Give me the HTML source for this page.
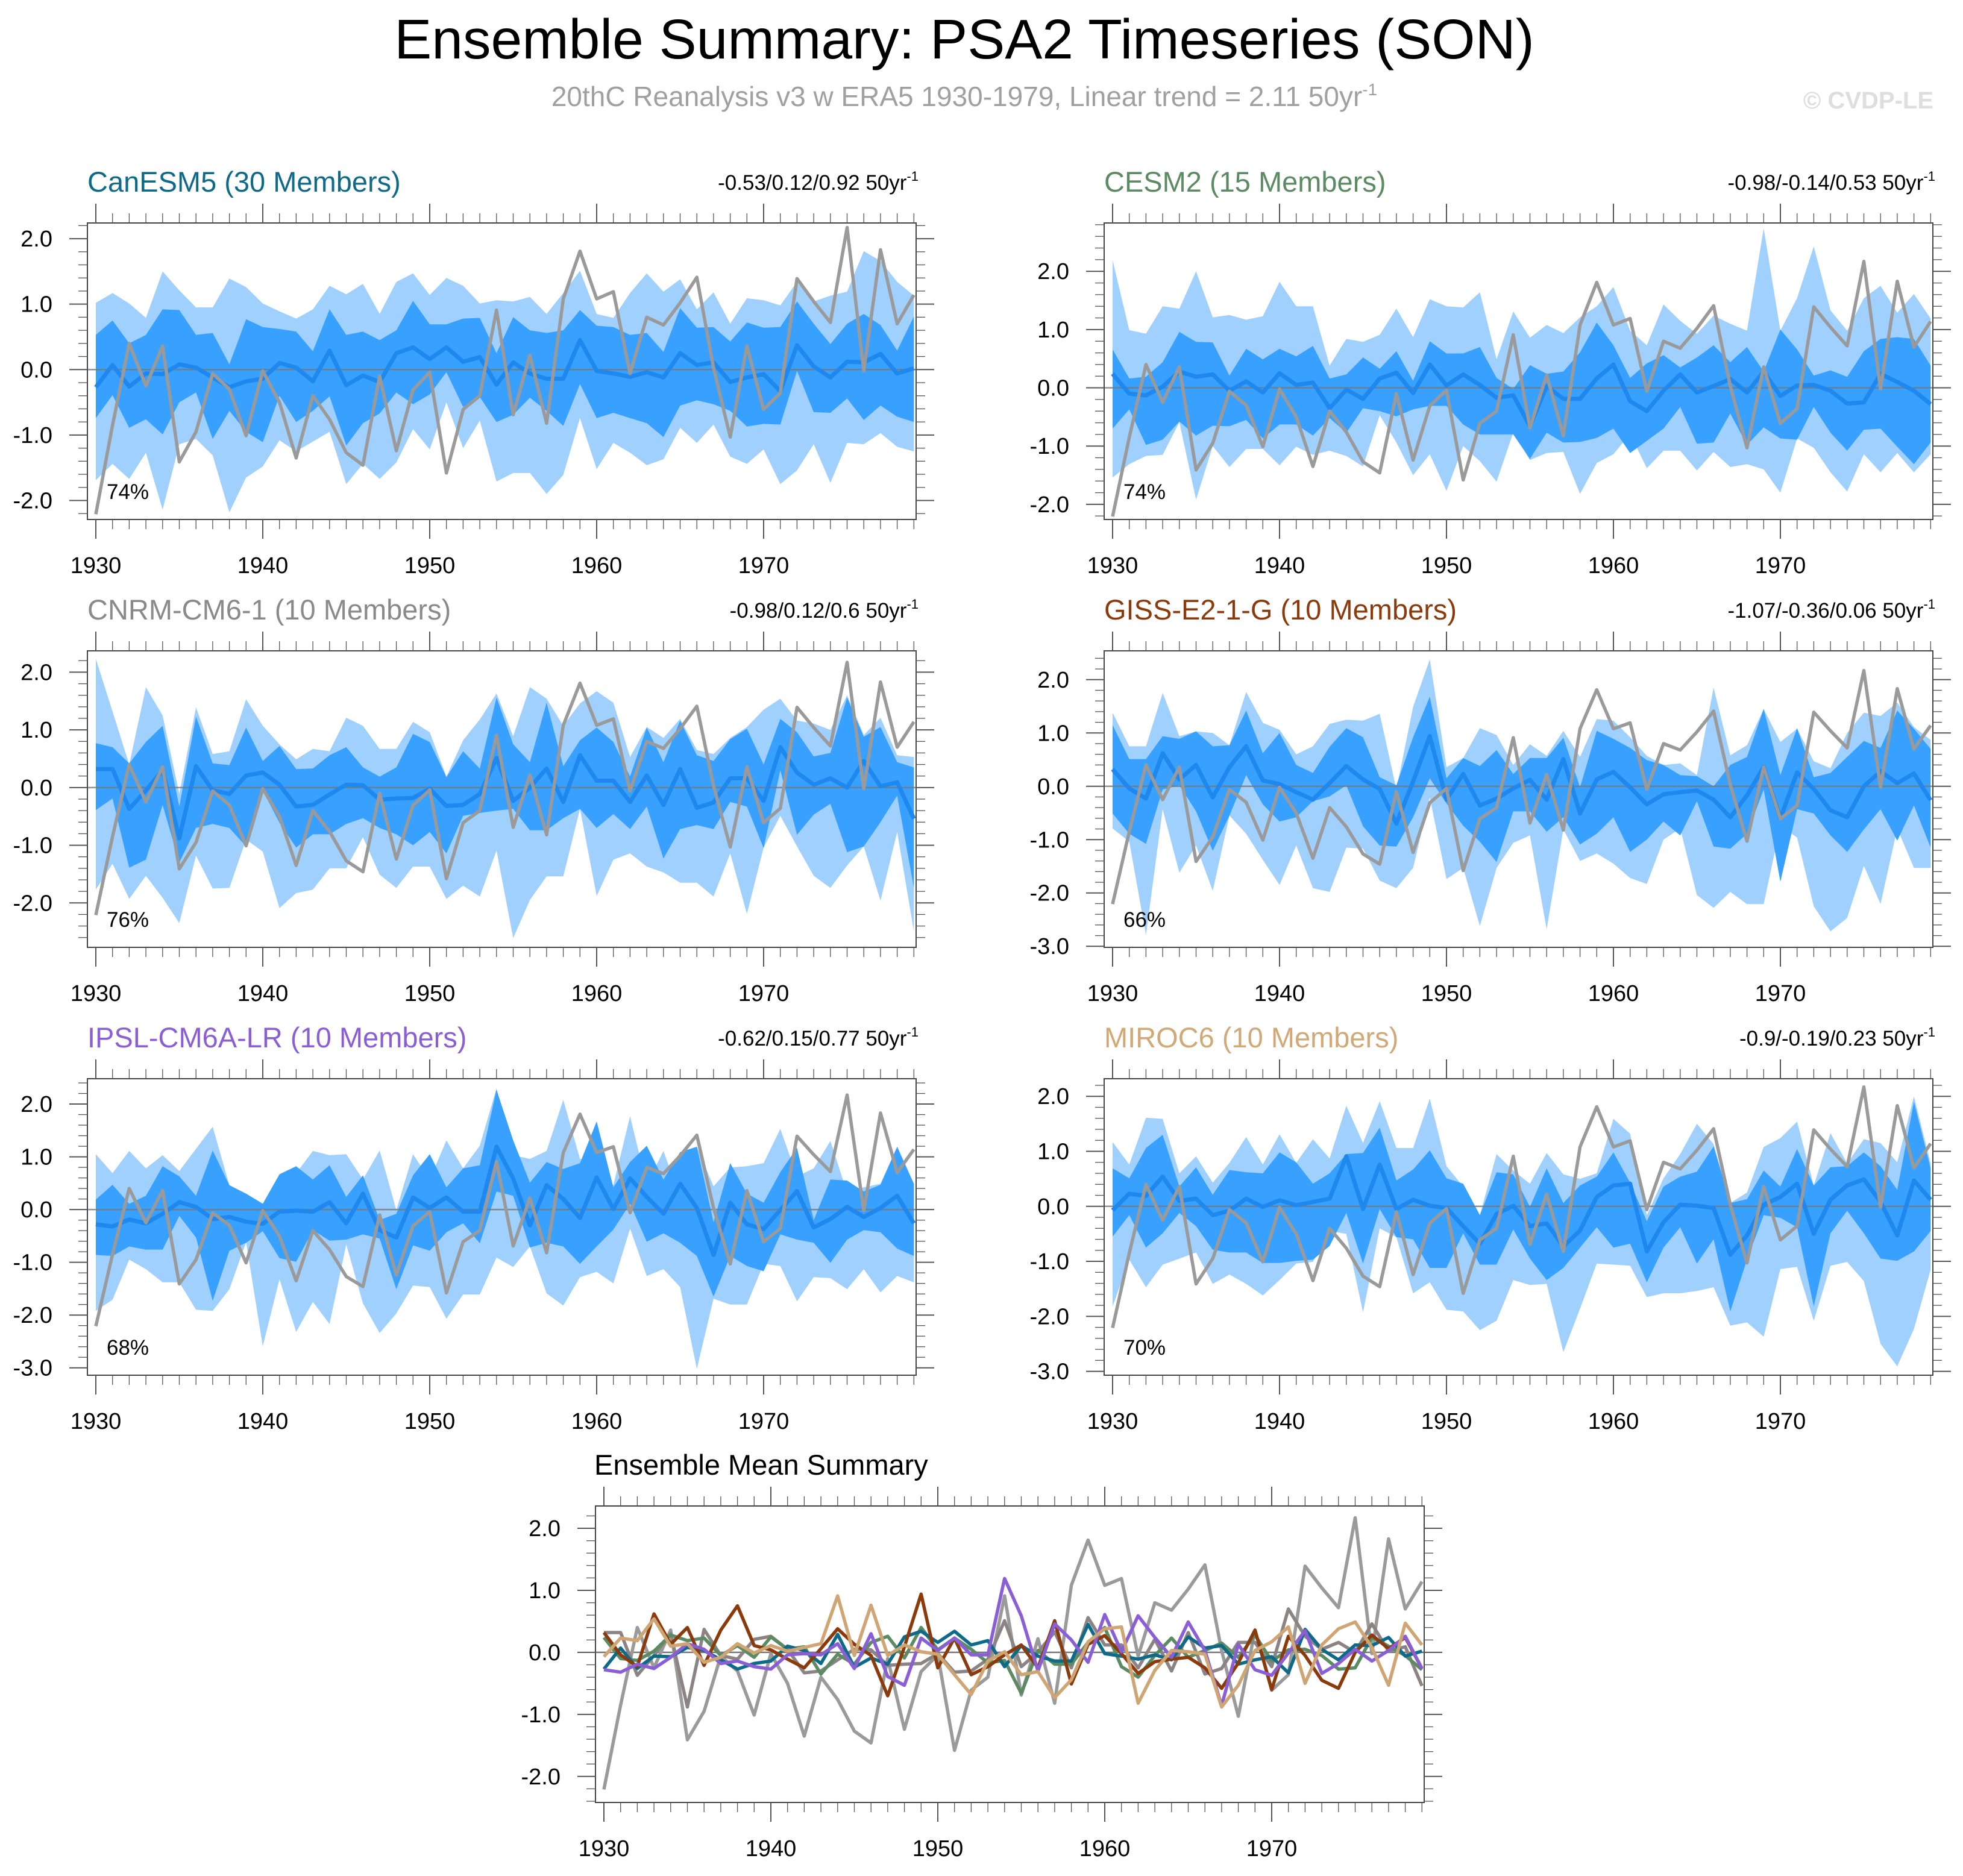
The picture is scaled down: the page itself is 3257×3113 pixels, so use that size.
<!DOCTYPE html>
<html><head><meta charset="utf-8"><title>Ensemble Summary: PSA2 Timeseries (SON)</title>
<style>
html,body{margin:0;padding:0;background:#fff;}
svg{display:block;font-family:"Liberation Sans",Arial,sans-serif;}
</style></head>
<body>
<svg id="fig" width="3257" height="3113" viewBox="0 0 3257 3113" xmlns="http://www.w3.org/2000/svg">
<text x="1600" y="97" font-size="93" text-anchor="middle" fill="#000">Ensemble Summary: PSA2 Timeseries (SON)</text>
<text x="1600" y="176" font-size="46" text-anchor="middle" fill="#a0a0a0">20thC Reanalysis v3 w ERA5 1930-1979, Linear trend = 2.11 50yr<tspan dy="-18" font-size="28">-1</tspan></text>
<text x="3208" y="180" font-size="40" font-weight="bold" text-anchor="end" fill="#dedede">© CVDP-LE</text>
<g id="panels"></g>
</svg>
<script>
const years = [];
for (let y = 1930; y <= 1979; y++) years.push(y);
const xTickLabels = [1930, 1940, 1950, 1960, 1970];

const obs = [-2.21,-0.85,0.40,-0.25,0.36,-1.41,-0.95,-0.06,-0.30,-1.01,-0.02,-0.50,-1.35,-0.40,-0.76,-1.27,-1.46,-0.10,-1.24,-0.31,-0.04,-1.58,-0.61,-0.40,0.91,-0.69,0.22,-0.82,1.08,1.81,1.08,1.19,-0.06,0.80,0.68,1.02,1.41,0.03,-1.03,0.36,-0.61,-0.36,1.39,1.04,0.72,2.17,-0.02,1.83,0.70,1.14];

// CanESM5
const canMean = [-0.27,0.07,-0.26,-0.06,-0.07,0.08,0.03,-0.12,-0.27,-0.18,-0.14,0.10,0.03,-0.18,0.29,-0.24,-0.09,-0.19,0.25,0.34,0.16,0.34,0.12,0.19,-0.23,0.11,-0.06,-0.14,-0.14,0.45,-0.02,-0.06,-0.11,-0.04,-0.12,0.25,0.07,0.11,-0.19,-0.12,-0.07,-0.33,0.37,0.05,-0.12,0.12,0.11,0.24,-0.06,0.02];
const canOutHi = [1.02,1.17,1.01,0.79,1.50,1.21,0.95,0.95,1.39,1.26,1.01,0.89,0.78,0.92,1.28,1.15,1.31,0.85,1.34,1.47,1.14,1.40,1.28,1.01,1.06,1.04,1.11,0.85,1.17,1.51,0.85,0.79,1.17,1.47,1.19,1.38,0.92,1.18,0.70,1.09,1.06,0.98,1.34,1.04,1.13,1.19,1.81,1.66,1.34,1.13];
const canInHi = [0.53,0.75,0.40,0.53,0.92,0.91,0.53,0.56,0.08,0.77,0.65,0.62,0.58,0.28,0.92,0.53,0.58,0.45,0.60,1.05,0.69,0.69,0.78,0.79,0.25,0.80,0.60,0.56,0.60,0.91,0.67,0.65,0.53,0.56,0.27,0.94,0.64,0.65,0.43,0.72,0.64,0.65,1.04,0.70,0.39,0.70,0.85,0.68,0.29,0.81];
const canInLo = [-0.74,-0.39,-0.89,-0.76,-0.99,-0.50,-0.35,-1.06,-0.63,-0.95,-1.11,-0.40,-0.80,-0.63,-0.41,-1.16,-0.82,-0.67,-0.35,-0.53,-0.38,-0.04,-0.57,-0.42,-0.80,-0.69,-0.43,-0.63,-0.86,-0.22,-0.74,-0.66,-0.74,-0.82,-1.03,-0.55,-0.47,-0.53,-0.63,-0.87,-0.83,-0.84,-0.02,-0.65,-0.66,-0.44,-0.77,-0.55,-0.72,-0.80];
const canOutLo = [-1.69,-1.44,-1.67,-1.27,-2.14,-1.14,-1.06,-1.31,-2.18,-1.65,-1.48,-1.08,-1.25,-1.10,-0.95,-1.75,-1.44,-1.67,-1.42,-0.91,-1.22,-0.50,-1.20,-0.78,-1.71,-1.58,-1.58,-1.90,-1.61,-0.74,-1.52,-1.12,-1.27,-1.46,-1.37,-0.89,-1.12,-0.84,-1.33,-1.44,-1.22,-1.75,-1.54,-1.14,-1.73,-1.12,-1.14,-0.97,-1.18,-1.25];

// CESM2
const cesmMean = [0.24,-0.10,-0.13,0.02,0.28,0.19,0.23,-0.05,0.11,-0.08,0.25,0.05,0.09,-0.35,-0.03,-0.19,0.16,0.26,-0.09,0.40,0.04,0.23,0.05,-0.17,-0.13,-0.66,0.03,-0.19,-0.19,0.16,0.40,-0.23,-0.40,-0.05,0.23,-0.08,0.03,0.15,-0.08,0.28,-0.14,0.04,0.05,-0.05,-0.27,-0.25,0.24,0.10,-0.05,-0.28];
const cesmOutHi = [2.19,0.99,0.93,1.40,1.36,2.00,1.21,1.25,1.17,1.23,1.82,1.40,1.40,0.38,0.84,0.79,0.91,1.36,0.87,1.52,1.40,1.38,1.64,0.49,1.31,0.86,1.08,0.94,1.21,1.40,1.73,0.98,0.73,1.43,1.15,0.93,1.24,1.10,0.98,2.74,0.98,1.54,2.43,1.33,0.98,1.54,1.75,1.29,1.61,1.19];
const cesmInHi = [0.66,0.16,0.19,0.44,0.96,0.79,0.78,0.21,0.67,0.49,0.67,0.54,0.72,0.16,0.23,0.52,0.33,0.63,0.12,0.80,0.59,0.59,0.70,0.17,-0.02,0.39,0.24,0.28,0.61,1.12,0.73,0.17,0.42,0.56,0.35,0.52,0.73,0.44,0.70,0.28,1.00,0.66,0.21,0.30,0.19,0.63,0.84,0.87,0.84,0.38];
const cesmInLo = [-0.70,-0.37,-0.98,-0.89,-0.58,-0.82,-0.65,-0.66,-0.55,-0.87,-0.63,-0.63,-0.82,-0.52,-0.77,-0.35,-0.40,-0.49,-0.37,-0.31,-0.31,-0.63,-0.80,-0.80,-0.80,-1.22,-0.77,-0.94,-0.93,-0.86,-0.70,-1.12,-0.91,-0.70,-0.33,-0.96,-0.94,-0.44,-0.98,-0.68,-0.87,-0.89,-0.33,-0.77,-1.08,-0.72,-0.70,-1.01,-1.31,-0.94];
const cesmOutLo = [-1.54,-1.31,-1.17,-1.15,-0.59,-1.92,-1.00,-1.36,-1.05,-1.05,-1.33,-1.01,-1.15,-1.08,-1.17,-1.35,-0.47,-0.94,-1.50,-1.14,-1.77,-1.00,-1.26,-1.61,-0.77,-1.24,-1.12,-1.10,-1.82,-1.29,-1.14,-0.79,-1.38,-1.08,-1.08,-1.42,-1.10,-1.36,-1.31,-1.40,-1.80,-0.87,-1.03,-1.45,-1.78,-1.14,-1.45,-1.12,-1.45,-1.14];

// CNRM-CM6-1
const cnrmMean = [0.32,0.32,-0.37,-0.05,0.30,-0.88,0.37,-0.05,-0.11,0.21,0.26,0.05,-0.33,-0.30,-0.12,0.05,0.04,-0.21,-0.19,-0.18,-0.02,-0.32,-0.30,-0.11,0.51,-0.23,0.00,0.33,-0.25,0.56,0.12,0.12,-0.25,0.21,-0.30,0.32,-0.35,-0.26,0.16,0.16,-0.23,0.70,0.26,0.05,0.16,0.00,0.46,0.02,0.09,-0.54];
const cnrmOutHi = [2.23,1.32,0.40,1.74,1.25,-0.11,1.39,0.58,0.63,1.53,1.07,0.75,0.49,0.67,0.63,1.21,1.07,0.67,0.67,1.14,0.96,0.19,0.82,1.18,1.63,0.89,1.74,1.54,1.07,1.46,1.67,1.47,0.53,1.05,0.86,1.19,0.65,0.58,0.86,1.05,1.35,1.54,1.16,1.11,1.00,1.60,0.91,1.21,0.56,0.53];
const cnrmInHi = [0.77,0.70,0.42,0.79,1.07,-0.33,1.23,0.42,0.39,1.04,0.46,0.72,0.32,0.33,0.56,0.70,0.35,0.19,0.35,0.93,0.79,0.18,0.63,0.33,1.56,0.75,0.44,1.47,0.37,0.82,1.04,0.79,0.19,1.04,0.44,1.16,0.56,0.46,0.84,1.02,0.40,1.19,0.96,0.54,0.60,1.56,0.88,1.05,0.44,0.35];
const cnrmInLo = [-0.39,-0.19,-1.39,-1.25,-0.30,-1.30,-0.70,-0.63,-0.70,-1.02,-0.05,-0.61,-1.04,-0.81,-0.81,-0.63,-0.53,-0.70,-0.81,-1.00,-0.77,-1.14,-0.49,-0.44,-0.40,-0.37,-0.74,-0.74,-0.53,-0.37,-0.70,-0.46,-0.72,-0.33,-1.23,-0.72,-0.65,-0.72,-0.25,-0.33,-1.05,0.30,-0.82,-0.47,-0.28,-1.12,-1.02,-0.60,-0.14,-1.74];
const cnrmOutLo = [-1.77,-1.32,-1.93,-1.53,-1.91,-2.35,-1.18,-1.75,-1.74,-0.90,-1.11,-2.09,-1.83,-1.77,-1.40,-1.40,-0.86,-1.51,-1.74,-1.37,-1.37,-1.93,-1.70,-1.89,-1.09,-2.61,-1.95,-1.54,-1.54,-0.37,-1.88,-1.25,-1.14,-1.37,-1.47,-1.65,-1.65,-1.89,-1.14,-2.19,-1.04,-0.49,-1.02,-1.53,-1.74,-1.35,-1.02,-1.96,-0.77,-2.49];

// GISS-E2-1-G
const gissMean = [0.32,-0.04,-0.23,0.62,0.13,0.40,-0.21,0.36,0.75,0.11,0.04,-0.11,-0.25,0.06,0.38,0.13,-0.05,-0.70,0.09,0.94,-0.25,0.23,-0.36,-0.23,-0.04,0.12,-0.25,0.51,-0.51,0.13,0.27,-0.02,-0.34,-0.15,-0.11,-0.08,-0.25,-0.58,-0.17,0.36,-0.60,0.26,-0.05,-0.45,-0.58,0.00,0.28,0.06,0.24,-0.26];
const gissOutHi = [1.38,0.75,0.75,1.75,0.94,1.03,1.00,0.77,1.77,1.19,1.06,0.60,0.75,1.17,1.25,1.23,1.36,-0.06,1.49,2.38,0.36,0.53,1.09,0.96,0.40,0.79,0.57,1.04,0.55,1.26,1.23,0.92,0.57,0.40,0.43,0.21,1.85,0.58,0.77,1.45,0.83,1.08,0.47,0.34,1.00,1.38,1.32,1.57,1.11,0.87];
const gissInHi = [1.15,0.51,0.51,0.94,0.89,1.03,0.75,0.77,1.42,0.62,1.00,0.40,0.25,0.74,1.09,0.92,0.17,0.02,0.92,1.68,0.15,0.53,0.38,0.68,0.23,0.53,0.53,0.91,-0.02,1.04,0.89,0.72,0.49,0.40,0.21,0.19,0.00,0.40,0.55,1.45,0.21,1.09,0.17,0.25,0.55,0.85,0.72,1.42,1.08,0.70];
const gissInLo = [-0.51,-0.89,-1.08,-0.06,0.02,-0.47,-1.21,-0.55,0.21,-0.34,-0.66,-0.58,-0.28,-0.19,0.02,-0.75,-1.11,-1.13,-0.58,0.15,-0.32,-0.74,-1.04,-1.42,-0.47,-0.47,-0.85,-0.58,-1.09,-0.89,-0.58,-1.23,-1.00,-0.66,-0.92,-0.28,-1.13,-1.17,-0.89,-0.06,-1.79,-0.43,-0.51,-0.92,-1.23,-0.81,-0.43,-1.02,-0.36,-1.15];
const gissOutLo = [-0.79,-1.04,-2.79,-0.43,-1.62,-1.11,-1.96,-0.55,-0.89,-1.38,-1.85,-1.11,-1.91,-1.98,-1.15,-1.17,-1.77,-1.91,-1.53,-0.21,-1.74,-1.53,-2.62,-1.53,-1.06,-0.92,-2.68,-0.81,-1.40,-1.26,-1.45,-1.72,-1.83,-1.00,-0.79,-2.04,-2.28,-1.98,-2.21,-2.21,-0.74,-0.96,-2.25,-2.72,-2.47,-1.49,-2.21,-0.79,-1.53,-1.53];

// IPSL-CM6A-LR
const ipslMean = [-0.28,-0.32,-0.19,-0.26,-0.08,0.14,0.05,-0.18,-0.14,-0.23,-0.27,-0.04,-0.02,-0.04,0.14,-0.26,0.30,-0.39,-0.53,0.23,0.03,0.23,-0.04,-0.04,1.19,0.59,-0.30,0.46,0.20,-0.16,0.61,0.01,0.59,0.24,-0.08,0.49,0.03,-0.86,0.13,-0.28,-0.37,-0.01,0.35,-0.34,-0.18,0.05,-0.14,0.03,0.26,-0.26];
const ipslOutHi = [1.05,0.69,1.11,0.78,1.03,0.73,1.15,1.57,0.46,0.30,0.11,0.49,0.69,1.11,1.03,1.05,0.57,1.12,-0.01,1.05,0.57,1.31,0.78,1.21,2.30,1.03,0.96,1.11,2.08,0.96,0.96,0.46,1.77,0.47,1.11,0.22,1.19,0.44,0.80,0.82,0.88,1.53,0.63,0.78,1.30,0.32,0.42,0.49,1.19,0.49];
const ipslInHi = [0.19,0.47,0.11,0.26,0.82,0.63,0.26,1.12,0.46,0.30,0.11,0.67,0.82,0.57,0.84,0.24,0.65,-0.20,-0.08,0.65,1.05,0.42,0.78,0.84,2.27,1.31,0.51,0.90,0.77,0.88,1.67,0.42,0.90,1.21,0.57,1.09,1.19,-0.24,0.88,0.30,0.13,0.71,1.17,-0.20,0.57,0.55,0.34,0.47,1.19,0.49];
const ipslInLo = [-0.86,-0.88,-0.70,-0.76,-0.76,-0.12,-0.53,-1.73,-0.78,-0.63,-0.41,-0.92,-0.99,-0.39,-0.59,-0.57,-0.47,-0.55,-1.51,-0.68,-0.78,-0.43,-0.26,-0.64,0.34,0.26,-0.72,-0.63,-0.70,-1.03,-0.70,-0.38,0.11,-0.61,-0.45,-0.63,-0.88,-1.65,-0.88,-1.07,-1.17,-0.47,-0.57,-0.63,-1.01,-0.57,-0.39,-0.43,-0.74,-0.88];
const ipslOutLo = [-1.92,-1.71,-0.95,-1.13,-1.38,-1.38,-1.90,-1.92,-1.51,-0.62,-2.59,-1.32,-2.32,-1.75,-2.17,-0.66,-1.78,-2.34,-1.97,-1.44,-1.47,-2.07,-1.61,-1.61,-0.91,-1.09,-0.70,-1.59,-1.82,-1.28,-1.18,-1.40,-0.36,-1.26,-1.13,-1.47,-3.02,-1.69,-1.80,-1.80,-1.03,-1.07,-1.74,-1.28,-1.30,-1.51,-1.13,-1.57,-1.26,-1.38];

// MIROC6
const mirocMean = [-0.07,0.23,0.19,0.54,0.10,0.14,-0.16,-0.08,0.14,-0.01,0.11,0.02,0.08,0.14,0.91,-0.05,0.76,-0.05,0.12,0.01,-0.03,-0.36,-0.68,-0.14,0.01,-0.36,-0.31,-0.73,-0.44,0.17,0.38,0.41,-0.82,-0.29,0.03,0.01,-0.03,-0.88,-0.53,0.03,0.17,0.41,-0.50,0.12,0.38,0.49,0.08,-0.53,0.47,0.12];
const mirocOutHi = [1.17,0.76,1.61,1.59,0.60,0.91,0.43,0.79,1.26,0.76,1.31,0.79,1.22,0.87,1.83,1.15,1.91,1.06,1.06,1.96,0.73,0.36,-0.16,0.95,0.65,0.41,0.97,0.58,0.50,0.60,1.59,1.32,-0.16,0.51,0.95,1.50,1.13,0.06,0.25,1.08,1.24,1.54,0.38,1.33,0.78,1.22,1.15,0.80,2.00,0.78];
const mirocInHi = [0.69,0.51,1.06,1.30,0.36,0.71,0.21,0.66,0.62,0.60,0.98,0.80,0.41,0.60,0.95,0.97,1.43,0.47,0.67,1.02,0.51,0.41,-0.16,0.62,0.58,-0.01,0.69,0.06,0.38,0.54,0.98,0.43,-0.27,0.36,0.54,0.63,1.09,0.06,0.13,0.65,0.36,1.04,0.38,0.71,0.73,0.98,0.73,0.30,1.90,0.69];
const mirocInLo = [-0.55,-0.16,-0.75,-0.49,-0.12,-0.36,-0.79,-0.84,-0.84,-1.03,-1.03,-0.99,-0.97,-0.72,-0.12,-1.04,-0.05,-0.56,-0.60,-1.12,-1.12,-0.49,-1.06,-1.06,-0.42,-0.95,-1.34,-1.12,-0.75,-0.38,-0.75,-0.68,-1.38,-0.75,-0.38,-1.04,-0.60,-1.91,-0.97,-0.16,-0.21,-0.38,-1.82,-0.49,-0.08,-0.49,-0.95,-0.99,-0.82,-0.45];
const mirocOutLo = [-1.82,-0.97,-1.47,-1.06,-0.95,-0.84,-1.41,-1.24,-1.41,-1.62,-1.34,-1.04,-1.01,-0.45,-0.50,-1.93,-0.40,-0.56,-1.58,-1.38,-1.88,-1.91,-2.25,-2.08,-1.34,-1.43,-1.41,-2.65,-1.86,-1.04,-1.06,-1.08,-1.65,-1.58,-1.58,-1.54,-1.47,-2.17,-2.11,-2.37,-1.14,-1.10,-2.08,-1.08,-1.01,-1.36,-2.50,-2.91,-2.23,-1.15];

const NS = "http://www.w3.org/2000/svg";
const root = document.getElementById("panels");
function el(tag, attrs, parent) {
  const e = document.createElementNS(NS, tag);
  for (const k in attrs) e.setAttribute(k, attrs[k]);
  (parent || root).appendChild(e);
  return e;
}

const PW = 1375, PH = 492;
function makeAxes(left, top, ymin, ymax) {
  const xS = yr => left + 14 + (yr - 1930) * 27.7;
  const yS = v => top + (ymax - v) / (ymax - ymin) * PH;
  return { xS, yS };
}

function drawFrame(g, left, top, ymin, ymax, ticks, labels) {
  const { xS, yS } = makeAxes(left, top, ymin, ymax);
  for (let yr = 1930; yr <= 1979; yr++) {
    const major = yr % 10 === 0;
    const len = major ? 32 : 16;
    const x = xS(yr);
    el("line", { x1: x, x2: x, y1: top, y2: top - len, stroke: "#555", "stroke-width": major ? 2 : 1.3 }, g);
    el("line", { x1: x, x2: x, y1: top + PH, y2: top + PH + len, stroke: "#555", "stroke-width": major ? 2 : 1.3 }, g);
  }
  const gl = el("g", {}, g);
  
  
  xTickLabels.forEach(yr => {
    const t = el("text", { x: xS(yr), y: top + PH + 89, "font-size": 38, "text-anchor": "middle", fill: "#000" }, gl);
    t.textContent = yr;
  });
  const lo = Math.ceil(ymin * 5 - 1e-6), hi = Math.floor(ymax * 5 + 1e-6);
  for (let i = lo; i <= hi; i++) {
    const v = i / 5, y = yS(v);
    const major = i % 5 === 0;
    const len = major ? 30 : 15;
    el("line", { x1: left, x2: left - len, y1: y, y2: y, stroke: "#555", "stroke-width": major ? 2 : 1.3 }, g);
    el("line", { x1: left + PW, x2: left + PW + len, y1: y, y2: y, stroke: "#555", "stroke-width": major ? 2 : 1.3 }, g);
  }
  const yl = el("g", {}, g);
  
  
  ticks.forEach((v, i) => {
    const t = el("text", { x: left - 58, y: yS(v) + 13, "font-size": 38, "text-anchor": "end", fill: "#000" }, yl);
    t.textContent = labels[i];
  });
  return { xS, yS };
}

function bandPath(xS, yS, hi, lo) {
  let d = "";
  hi.forEach((v, i) => { d += (i ? "L" : "M") + xS(years[i]).toFixed(1) + "," + yS(v).toFixed(1); });
  for (let i = lo.length - 1; i >= 0; i--) d += "L" + xS(years[i]).toFixed(1) + "," + yS(lo[i]).toFixed(1);
  return d + "Z";
}
function linePath(xS, yS, arr) {
  let d = "";
  arr.forEach((v, i) => { d += (i ? "L" : "M") + xS(years[i]).toFixed(1) + "," + yS(v).toFixed(1); });
  return d;
}

const panelTicks = {
  a: [[2, 1, 0, -1, -2], ["2.0", "1.0", "0.0", "-1.0", "-2.0"]],
  b: [[2, 1, 0, -1, -2, -3], ["2.0", "1.0", "0.0", "-1.0", "-2.0", "-3.0"]]
};

const panels = [
  { id: "canesm5", title: "CanESM5 (30 Members)", color: "#0d6a88", stat: "-0.53/0.12/0.92 50yr", pct: "74%", left: 145, top: 370, ymin: -2.29, ymax: 2.24, t: "a", mean: canMean, oh: canOutHi, ih: canInHi, il: canInLo, ol: canOutLo },
  { id: "cesm2", title: "CESM2 (15 Members)", color: "#5b8a63", stat: "-0.98/-0.14/0.53 50yr", pct: "74%", left: 1832, top: 370, ymin: -2.26, ymax: 2.83, t: "a", mean: cesmMean, oh: cesmOutHi, ih: cesmInHi, il: cesmInLo, ol: cesmOutLo },
  { id: "cnrm-cm6-1", title: "CNRM-CM6-1 (10 Members)", color: "#8a8a8a", stat: "-0.98/0.12/0.6 50yr", pct: "76%", left: 145, top: 1080, ymin: -2.77, ymax: 2.37, t: "a", mean: cnrmMean, oh: cnrmOutHi, ih: cnrmInHi, il: cnrmInLo, ol: cnrmOutLo },
  { id: "giss-e2-1-g", title: "GISS-E2-1-G (10 Members)", color: "#8b3a0c", stat: "-1.07/-0.36/0.06 50yr", pct: "66%", left: 1832, top: 1080, ymin: -3.02, ymax: 2.54, t: "b", mean: gissMean, oh: gissOutHi, ih: gissInHi, il: gissInLo, ol: gissOutLo },
  { id: "ipsl-cm6a-lr", title: "IPSL-CM6A-LR (10 Members)", color: "#8a5fd6", stat: "-0.62/0.15/0.77 50yr", pct: "68%", left: 145, top: 1790, ymin: -3.14, ymax: 2.48, t: "b", mean: ipslMean, oh: ipslOutHi, ih: ipslInHi, il: ipslInLo, ol: ipslOutLo },
  { id: "miroc6", title: "MIROC6 (10 Members)", color: "#d2a877", stat: "-0.9/-0.19/0.23 50yr", pct: "70%", left: 1832, top: 1790, ymin: -3.07, ymax: 2.32, t: "b", mean: mirocMean, oh: mirocOutHi, ih: mirocInHi, il: mirocInLo, ol: mirocOutLo }
];

panels.forEach(p => {
  const g = el("g", {});
  
  
  const { xS, yS } = makeAxes(p.left, p.top, p.ymin, p.ymax);
  const clip = el("clipPath", { id: "clip-" + p.id }, g);
  el("rect", { x: p.left, y: p.top, width: PW, height: PH }, clip);
  const plot = el("g", { "clip-path": "url(#clip-" + p.id + ")" }, g);
  const ob = el("path", { d: bandPath(xS, yS, p.oh, p.ol), fill: "#a0d0fe" }, plot);
  
  
  const ib = el("path", { d: bandPath(xS, yS, p.ih, p.il), fill: "#38a0ff" }, plot);
  
  
  el("line", { x1: p.left, x2: p.left + PW, y1: yS(0), y2: yS(0), stroke: "#777", "stroke-width": 2.5, "stroke-opacity": 0.8 }, plot);
  const ml = el("path", { d: linePath(xS, yS, p.mean), fill: "none", stroke: "#1e88ee", "stroke-width": 7, "stroke-linejoin": "round" }, plot);
  
  
  const ol = el("path", { d: linePath(xS, yS, obs), fill: "none", stroke: "#9a9a9a", "stroke-width": 5.5, "stroke-linejoin": "round" }, plot);
  
  
  el("rect", { x: p.left, y: p.top, width: PW, height: PH, fill: "none", stroke: "#444", "stroke-width": 2 }, g);
  drawFrame(g, p.left, p.top, p.ymin, p.ymax, panelTicks[p.t][0], panelTicks[p.t][1]);
  const tt = el("text", { x: p.left, y: p.top - 52, "font-size": 47, fill: p.color }, g);
  tt.textContent = p.title;
  
  
  const st = el("text", { x: p.left + PW + 4, y: p.top - 55, "font-size": 35, "text-anchor": "end", fill: "#000" }, g);
  st.textContent = p.stat;
  const sup = el("tspan", { dy: -15, "font-size": 22 }, st);
  sup.textContent = "-1";
  
  
  const pc = el("text", { x: p.left + 32, y: p.top + PH - 34, "font-size": 35, fill: "#000" }, g);
  pc.textContent = p.pct;
  
  
});

(function () {
  const left = 988, top = 2499, ymin = -2.42, ymax = 2.36;
  const g = el("g", {});
  
  
  const { xS, yS } = makeAxes(left, top, ymin, ymax);
  el("line", { x1: left, x2: left + PW, y1: yS(0), y2: yS(0), stroke: "#777", "stroke-width": 2.5 }, g);
  const series = [
    [obs, "#9a9a9a", "obs"], [cnrmMean, "#8c8484", "cnrm-cm6-1"], [cesmMean, "#5b8a63", "cesm2"],
    [canMean, "#0d6a88", "canesm5"], [gissMean, "#8b3a0c", "giss-e2-1-g"], [ipslMean, "#8a5fd6", "ipsl-cm6a-lr"],
    [mirocMean, "#cfa574", "miroc6"]
  ];
  series.forEach(s => {
    const l = el("path", { d: linePath(xS, yS, s[0]), fill: "none", stroke: s[1], "stroke-width": 5.5, "stroke-linejoin": "round" }, g);
    
    
  });
  el("rect", { x: left, y: top, width: PW, height: PH, fill: "none", stroke: "#444", "stroke-width": 2 }, g);
  drawFrame(g, left, top, ymin, ymax, panelTicks.a[0], panelTicks.a[1]);
  const tt = el("text", { x: left - 2, y: top - 52, "font-size": 47, fill: "#000" }, g);
  tt.textContent = "Ensemble Mean Summary";
  
  
})();
</script>
</body></html>
